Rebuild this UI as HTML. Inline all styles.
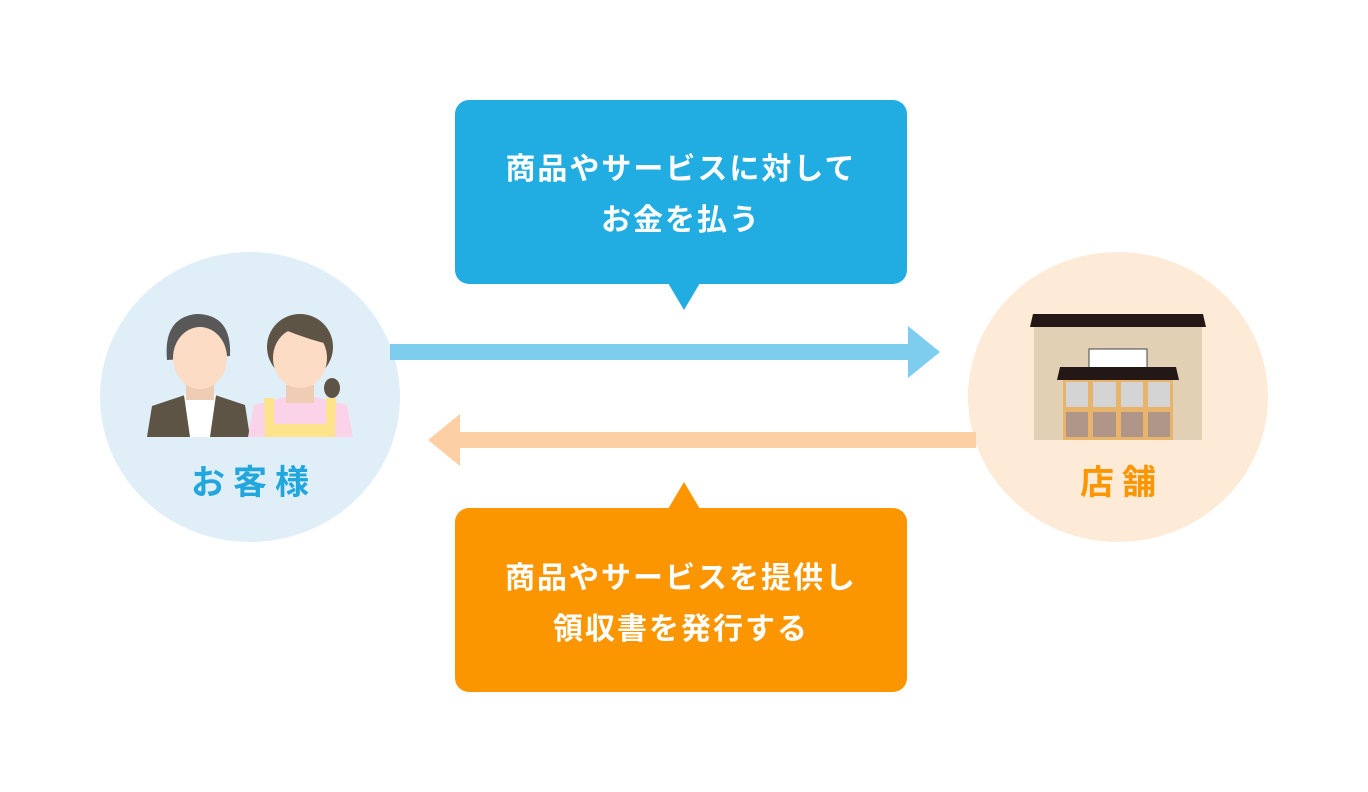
<!DOCTYPE html>
<html><head><meta charset="utf-8"><style>
body{margin:0;width:1368px;height:792px;background:#fff;overflow:hidden;position:relative;font-family:"Liberation Sans","Noto Sans CJK JP",sans-serif}
.t{position:absolute;color:#fff;font-weight:bold;font-size:30px;letter-spacing:2px;text-align:center;width:452px;left:455px}
.l{position:absolute;font-weight:bold;font-size:34px;letter-spacing:8px;text-align:center;width:300px}
</style></head><body>
<svg width="1368" height="792" style="position:absolute;left:0;top:0">
<ellipse cx="250" cy="397" rx="150" ry="145" fill="#e0eef8"/>
<ellipse cx="1118" cy="397" rx="150" ry="145" fill="#fdebd8"/>
<rect x="390" y="344" width="520" height="16" fill="#7fcdee"/>
<polygon points="908,326 940,352 908,378" fill="#7fcdee"/>
<rect x="458" y="432" width="518" height="16" fill="#fdcfa5"/>
<polygon points="460,414 428,440 460,466" fill="#fdcfa5"/>
<rect x="455" y="100" width="452" height="184" rx="14" fill="#21ade2"/>
<polygon points="668,283 700,283 684,310" fill="#21ade2"/>
<rect x="455" y="508" width="452" height="184" rx="14" fill="#fb9600"/>
<polygon points="668,509 700,509 684,482" fill="#fb9600"/>
<path d="M147,437 L152,406 L185,395 L215,395 L245,405 L250,437 Z" fill="#5e5446"/>
<path d="M184,395 L200,388 L216,395 L210,437 L190,437 Z" fill="#fff"/>
<rect x="186" y="383" width="28" height="17" fill="#efcdb4"/>
<path d="M167,360 Q163,318 196,314 Q232,314 230,356 Z" fill="#585858"/>
<ellipse cx="200" cy="358" rx="27" ry="31" fill="#fcdcc5"/>
<path d="M248,437 L254,405 L285,397 L315,397 L347,405 L353,437 Z" fill="#fbd3e8"/>
<path d="M264,398 L274,398 L274,424 L326,424 L326,398 L336,398 L335,437 L265,437 Z" fill="#fde48c"/>
<rect x="286" y="385" width="28" height="18" fill="#efcdb4"/>
<circle cx="300" cy="347" r="33" fill="#5e5446"/>
<ellipse cx="332" cy="388" rx="8" ry="10" fill="#5e5446"/>
<ellipse cx="300" cy="358" rx="27" ry="30" fill="#fcdcc5"/>
<path d="M270,345 Q280,325 300,322 Q320,325 332,345 Q310,340 285,330 Z" fill="#5e5446"/>
<rect x="1034" y="326" width="168" height="114" fill="#e2d0b4"/>
<polygon points="1033,314 1203,314 1206,327 1030,327" fill="#231815"/>
<rect x="1089" y="349" width="58" height="20" fill="#fff" stroke="#444" stroke-width="1"/>
<polygon points="1060,367 1176,367 1179,380 1057,380" fill="#231815"/>
<rect x="1063" y="380" width="110" height="60" fill="#e8b36a"/>
<g fill="#d4d4d4"><rect x="1066" y="382" width="22" height="25"/><rect x="1093" y="382" width="23" height="25"/><rect x="1121" y="382" width="22" height="25"/><rect x="1148" y="382" width="22" height="25"/></g>
<g fill="#b09688"><rect x="1066" y="412" width="22" height="25"/><rect x="1093" y="412" width="23" height="25"/><rect x="1121" y="412" width="22" height="25"/><rect x="1148" y="412" width="22" height="25"/></g>
</svg>
<div class="t" style="top:144px">商品やサービスに対して</div>
<div class="t" style="top:195px">お金を払う</div>
<div class="t" style="top:553px">商品やサービスを提供し</div>
<div class="t" style="top:604px">領収書を発行する</div>
<div class="l" style="left:104px;top:455px;color:#21a6de">お客様</div>
<div class="l" style="left:972px;top:455px;color:#fb9600">店舗</div>
</body></html>
